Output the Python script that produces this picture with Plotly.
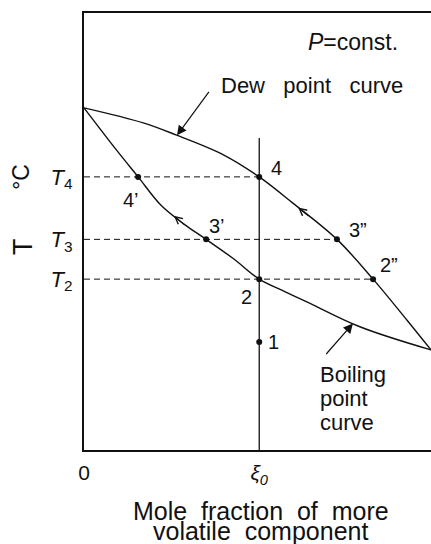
import numpy as np
import plotly.graph_objects as go

# Phase diagram of a binary mixture at constant pressure
# x: mole fraction of the more volatile component, T: temperature (relative scale)
dew_x = [0.0, 0.173, 0.265, 0.403, 0.505, 0.602, 0.729, 0.833, 0.931, 1.0]
dew_T = [78.3, 74.8, 72.1, 67.5, 62.5, 56.5, 48.2, 39.1, 29.7, 22.9]

boil_x = [0.0, 0.095, 0.156, 0.222, 0.288, 0.352, 0.432, 0.505, 0.580, 0.650, 0.795, 1.0]
boil_T = [78.3, 68.5, 62.5, 56.0, 51.7, 48.2, 43.7, 39.1, 36.2, 33.6, 28.2, 22.9]

xi0 = 0.505           # feed composition
xi0_top = 71.4        # upper end of the composition line

level_names = ["<i>T</i><sub>4</sub>", "<i>T</i><sub>3</sub>", "<i>T</i><sub>2</sub>"]
level_T = [62.5, 48.2, 39.1]
level_x_end = [0.505, 0.729, 0.833]   # tie lines run to the dew point curve

pt_names = ["4’", "3’", "2", "1", "4", "3”", "2”"]
pt_x = [0.156, 0.352, 0.505, 0.505, 0.505, 0.729, 0.833]
pt_T = [62.5, 48.2, 39.1, 24.7, 62.5, 48.2, 39.1]

x_tick_vals = [0.0, xi0]
x_tick_text = ["0", "<i>ξ<sub>0</sub></i>"]

x_title_lines = ["Mole  fraction  of  more", "volatile  component"]

FONT = "Liberation Sans, Arial, Helvetica, sans-serif"
BLACK = "#111111"

fig = go.Figure()

# dashed tie lines at T4, T3, T2
for T, xe in zip(level_T, level_x_end):
    fig.add_trace(go.Scatter(x=[0, xe], y=[T, T], mode="lines",
                             line=dict(color=BLACK, width=1, dash="6px,4px"),
                             hoverinfo="skip", showlegend=False))

# vertical composition line at xi0
fig.add_trace(go.Scatter(x=[xi0, xi0], y=[0, xi0_top], mode="lines",
                         line=dict(color=BLACK, width=1.3),
                         hoverinfo="skip", showlegend=False))

# dew point and boiling point curves
fig.add_trace(go.Scatter(x=dew_x, y=dew_T, mode="lines",
                         line=dict(color=BLACK, width=1.4, shape="spline", smoothing=1.0),
                         showlegend=False))
fig.add_trace(go.Scatter(x=boil_x, y=boil_T, mode="lines",
                         line=dict(color=BLACK, width=1.4, shape="spline", smoothing=1.0),
                         showlegend=False))

# state points
fig.add_trace(go.Scatter(x=pt_x, y=pt_T, mode="markers",
                         marker=dict(color=BLACK, size=6),
                         showlegend=False))

# point labels, offset from each point in pixels
label_shift = {"4’": (-7, -23), "3’": (11, 13), "2": (-13, -18), "1": (14, 0),
               "4": (17, 9), "3”": (21, 9), "2”": (16, 14)}
for name, x, T in zip(pt_names, pt_x, pt_T):
    dx, dy = label_shift[name]
    fig.add_annotation(x=x, y=T, text=name, showarrow=False,
                       xanchor="center", yanchor="middle",
                       xshift=dx, yshift=dy,
                       font=dict(family=FONT, size=20, color=BLACK))

# direction arrows along the curves
def on_curve(xs, Ts, x):
    return float(np.interp(x, xs, Ts))

for xs, Ts, xa in [(boil_x, boil_T, 0.259), (dew_x, dew_T, 0.617)]:
    fig.add_annotation(x=xa, y=on_curve(xs, Ts, xa), ax=12, ay=10,
                       showarrow=True, arrowhead=5, arrowsize=1.3, arrowwidth=1.1,
                       arrowcolor=BLACK, text="")

# curve name labels with pointer arrows
fig.add_annotation(x=0.268, y=on_curve(dew_x, dew_T, 0.268), ax=33, ay=-45,
                   showarrow=True, arrowhead=2, arrowsize=1.6, arrowwidth=1.2,
                   arrowcolor=BLACK, text="")
fig.add_annotation(x=0.775, y=on_curve(boil_x, boil_T, 0.775), ax=-28, ay=32,
                   showarrow=True, arrowhead=2, arrowsize=1.6, arrowwidth=1.2,
                   arrowcolor=BLACK, text="")

fig.add_annotation(x=0.39, y=83.5, xanchor="left", yanchor="middle",
                   text="Dew   point   curve", showarrow=False,
                   font=dict(family=FONT, size=22, color=BLACK))
fig.add_annotation(x=0.911, y=93.4, xanchor="right", yanchor="middle",
                   text="<i>P</i>=const.", showarrow=False,
                   font=dict(family=FONT, size=23, color=BLACK))
for txt, T in zip(["Boiling", "point", "curve"], [17.2, 11.9, 6.4]):
    fig.add_annotation(x=0.674, y=T, xanchor="left", yanchor="middle",
                       text=txt, showarrow=False,
                       font=dict(family=FONT, size=22, color=BLACK))

# y-axis title
fig.add_annotation(xref="paper", yref="paper", x=-0.176, y=0.4668, text="T",
                   xanchor="center", yanchor="middle",
                   textangle=-90, showarrow=False,
                   font=dict(family=FONT, size=27, color=BLACK))
fig.add_annotation(xref="paper", yref="paper", x=-0.182, y=0.6247, text="°C",
                   xanchor="center", yanchor="middle",
                   textangle=-90, showarrow=False,
                   font=dict(family=FONT, size=23, color=BLACK))

# x-axis title, two centred lines
for line, yp in zip(x_title_lines, [-0.1396, -0.1854]):
    fig.add_annotation(xref="paper", yref="paper", x=0.51, y=yp, text=line,
                       xanchor="center", yanchor="middle",
                       showarrow=False, font=dict(family=FONT, size=25, color=BLACK))

fig.update_layout(
    width=431, height=544,
    margin=dict(l=84, r=0, t=13, b=94),
    paper_bgcolor="white", plot_bgcolor="white",
    font=dict(family=FONT, color=BLACK),
    xaxis=dict(range=[0, 1], showgrid=False, zeroline=False, automargin=False,
               showline=True, linecolor=BLACK, linewidth=2, mirror=True,
               tickmode="array", tickvals=x_tick_vals, ticktext=x_tick_text,
               ticks="", ticklabelstandoff=3,
               tickfont=dict(family=FONT, size=21, color=BLACK)),
    yaxis=dict(range=[0, 100], showgrid=False, zeroline=False, automargin=False,
               showline=True, linecolor=BLACK, linewidth=2, mirror=False,
               tickmode="array", tickvals=level_T, ticktext=level_names,
               ticks="", ticklabelstandoff=5,
               tickfont=dict(family=FONT, size=22, color=BLACK)),
)

fig.write_html("out.html")
